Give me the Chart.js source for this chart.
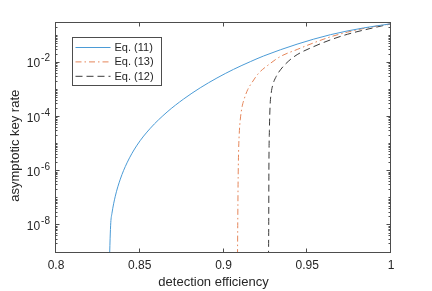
<!DOCTYPE html>
<html>
<head>
<meta charset="utf-8">
<script src="https://cdn.jsdelivr.net/npm/chart.js@4.4.0/dist/chart.umd.min.js"></script>
<style>
  html, body { margin: 0; padding: 0; background: #fff; }
</style>
</head>
<body>
<canvas id="chart" width="432" height="291"></canvas>
<script>
// values (detection efficiency -> asymptotic key rate)
const effEq11 = [0.8318, 0.8323, 0.8327, 0.8334, 0.8354, 0.8384, 0.8424, 0.8484, 0.8563, 0.8663,
                 0.8762, 0.8861, 0.8961, 0.906, 0.916, 0.924, 0.9439, 0.9638, 0.9836, 1.0];
const rateEq11 = [2.5e-10, 3.2e-9, 1.26e-8, 2.8e-8, 1.2e-7, 5.13e-7, 2.05e-6, 9.27e-6, 3.87e-5, 1.54e-4,
                  4.67e-4, 1.21e-3, 2.79e-3, 5.82e-3, 1.12e-2, 1.82e-2, 4.95e-2, 0.111, 0.197, 0.281];

const effEq13 = [0.9083, 0.9085, 0.9087, 0.909, 0.9095, 0.91, 0.911, 0.9125, 0.9145, 0.917,
                 0.921, 0.927, 0.934, 0.944, 0.954, 0.964, 0.974, 0.984, 1.0];
const rateEq13 = [2.5e-10, 1e-8, 3.2e-7, 5e-6, 3.2e-5, 7.9e-5, 2.24e-4, 5.0e-4, 1.05e-3, 1.9e-3,
                  4.2e-3, 8.7e-3, 1.74e-2, 3.16e-2, 5.6e-2, 9.3e-2, 0.138, 0.19, 0.28];

const effEq12 = [0.9268, 0.927, 0.9271, 0.9274, 0.9278, 0.9285, 0.9295, 0.9315, 0.934, 0.939,
                 0.944, 0.954, 0.964, 0.974, 0.984, 1.0];
const rateEq12 = [2.5e-10, 1e-8, 1e-6, 3.2e-5, 2.5e-4, 7.9e-4, 1.6e-3, 3.2e-3, 5.6e-3, 1.2e-2,
                  2.04e-2, 4.07e-2, 7.2e-2, 0.115, 0.166, 0.28];

const seriesNames = ['Eq. (11)', 'Eq. (13)', 'Eq. (12)'];
const xTicks = [0.8, 0.85, 0.9, 0.95, 1];
const xTickLabels = ['0.8', '0.85', '0.9', '0.95', '1'];
const yTickValues = [1e-8, 1e-6, 1e-4, 1e-2];
const yTickExps = [-8, -6, -4, -2];

const family = '"Liberation Sans", Arial, Helvetica, sans-serif';
const textColor = '#262626';
const frameColor = '#4d4d4d';

function toPoints(xs, ys) {
    return xs.map((x, i) => ({ x: x, y: ys[i] }));
}

// MATLAB-like box, inward ticks, y labels with exponents, axis titles and legend
const matlabAxes = {
    id: 'matlabAxes',
    afterDraw(chart) {
        const { ctx, chartArea: a, scales: { x, y } } = chart;
        ctx.save();

        // box
        ctx.strokeStyle = frameColor;
        ctx.lineWidth = 1;
        const L = Math.round(a.left) - 0.5, R = Math.round(a.right) - 0.5;
        const T = Math.round(a.top) - 0.5, B = Math.round(a.bottom) - 0.5;
        ctx.strokeRect(L, T, R - L, B - T);

        // inward ticks
        ctx.beginPath();
        xTicks.forEach(v => {
            const px = Math.round(x.getPixelForValue(v)) - 0.5;
            ctx.moveTo(px, B); ctx.lineTo(px, B - 4);
            ctx.moveTo(px, T); ctx.lineTo(px, T + 4);
        });
        for (let e = -9; e < 0; e++) {
            for (let k = 1; k < 10; k++) {
                const v = k * Math.pow(10, e);
                if (v < y.min || v > y.max) continue;
                const py = Math.round(y.getPixelForValue(v)) - 0.5;
                const len = (k === 1 && yTickExps.includes(e)) ? 4 : 2;
                ctx.moveTo(L, py); ctx.lineTo(L + len, py);
                ctx.moveTo(R, py); ctx.lineTo(R - len, py);
            }
        }
        ctx.stroke();

        // y tick labels: 10 with raised exponent
        ctx.fillStyle = textColor;
        ctx.textAlign = 'right';
        ctx.textBaseline = 'alphabetic';
        yTickValues.forEach((v, i) => {
            const py = y.getPixelForValue(v);
            const sup = String(yTickExps[i]);
            ctx.font = '10px ' + family;
            const w = ctx.measureText(sup).width;
            const right = a.left - 6;
            ctx.fillText(sup, right, py - 1.5);
            ctx.font = '12px ' + family;
            ctx.fillText('10', right - w - 1, py + 4.5);
        });

        // axis titles
        ctx.font = '13px ' + family;
        ctx.textAlign = 'center';
        ctx.fillText('detection efficiency', (a.left + a.right) / 2 - 10, 286);
        ctx.save();
        ctx.translate(15, (a.top + a.bottom) / 2 + 8);
        ctx.rotate(-Math.PI / 2);
        ctx.textBaseline = 'middle';
        ctx.fillText('asymptotic key rate', 0, 0);
        ctx.restore();

        // legend
        const bx = Math.round(a.left) + 16.5, by = Math.round(a.top) + 14.5;
        const bw = 89, bh = 48;
        ctx.fillStyle = '#fff';
        ctx.fillRect(bx, by, bw, bh);
        ctx.strokeStyle = frameColor;
        ctx.setLineDash([]);
        ctx.strokeRect(bx, by, bw, bh);
        ctx.font = '11px ' + family;
        ctx.textAlign = 'left';
        ctx.textBaseline = 'middle';
        chart.data.datasets.forEach((ds, i) => {
            const ry = by + 10 + i * 14.4;
            ctx.strokeStyle = ds.borderColor;
            ctx.lineWidth = ds.borderWidth;
            ctx.setLineDash(ds.borderDash || []);
            ctx.beginPath();
            ctx.moveTo(bx + 3, ry);
            ctx.lineTo(bx + 38, ry);
            ctx.stroke();
            ctx.fillStyle = textColor;
            ctx.fillText(ds.label, bx + 42, ry + 0.5);
        });
        ctx.restore();
    }
};

const ctx = document.getElementById('chart').getContext('2d');
new Chart(ctx, {
    type: 'line',
    data: {
        datasets: [
            { label: seriesNames[0], data: toPoints(effEq11, rateEq11), borderColor: '#4b9bd6',
              borderWidth: 1, pointRadius: 0, cubicInterpolationMode: 'monotone' },
            { label: seriesNames[1], data: toPoints(effEq13, rateEq13), borderColor: '#e5865a',
              borderWidth: 1, pointRadius: 0, cubicInterpolationMode: 'monotone', borderDash: [6, 3, 1.5, 3] },
            { label: seriesNames[2], data: toPoints(effEq12, rateEq12), borderColor: '#3a3a3a',
              borderWidth: 1, pointRadius: 0, cubicInterpolationMode: 'monotone', borderDash: [7, 4] }
        ]
    },
    options: {
        responsive: false,
        animation: false,
        devicePixelRatio: 1,
        layout: { padding: { top: 23, right: 41, left: 0, bottom: 0 } },
        plugins: { legend: { display: false }, tooltip: { enabled: false } },
        scales: {
            x: {
                type: 'linear', min: 0.8, max: 1,
                grid: { display: false, drawTicks: false },
                border: { display: false },
                afterBuildTicks: s => { s.ticks = xTicks.map(v => ({ value: v })); },
                afterFit: s => { s.height = 38.5; },
                ticks: {
                    autoSkip: false, maxRotation: 0, padding: 6, color: textColor,
                    font: { family: family, size: 12 },
                    callback: v => xTickLabels[xTicks.indexOf(v)]
                }
            },
            y: {
                type: 'logarithmic', min: 1e-9, max: 0.3,
                grid: { display: false, drawTicks: false },
                border: { display: false },
                ticks: { display: false },
                afterFit: s => { s.width = 56; }
            }
        }
    },
    plugins: [matlabAxes]
});
</script>
</body>
</html>
